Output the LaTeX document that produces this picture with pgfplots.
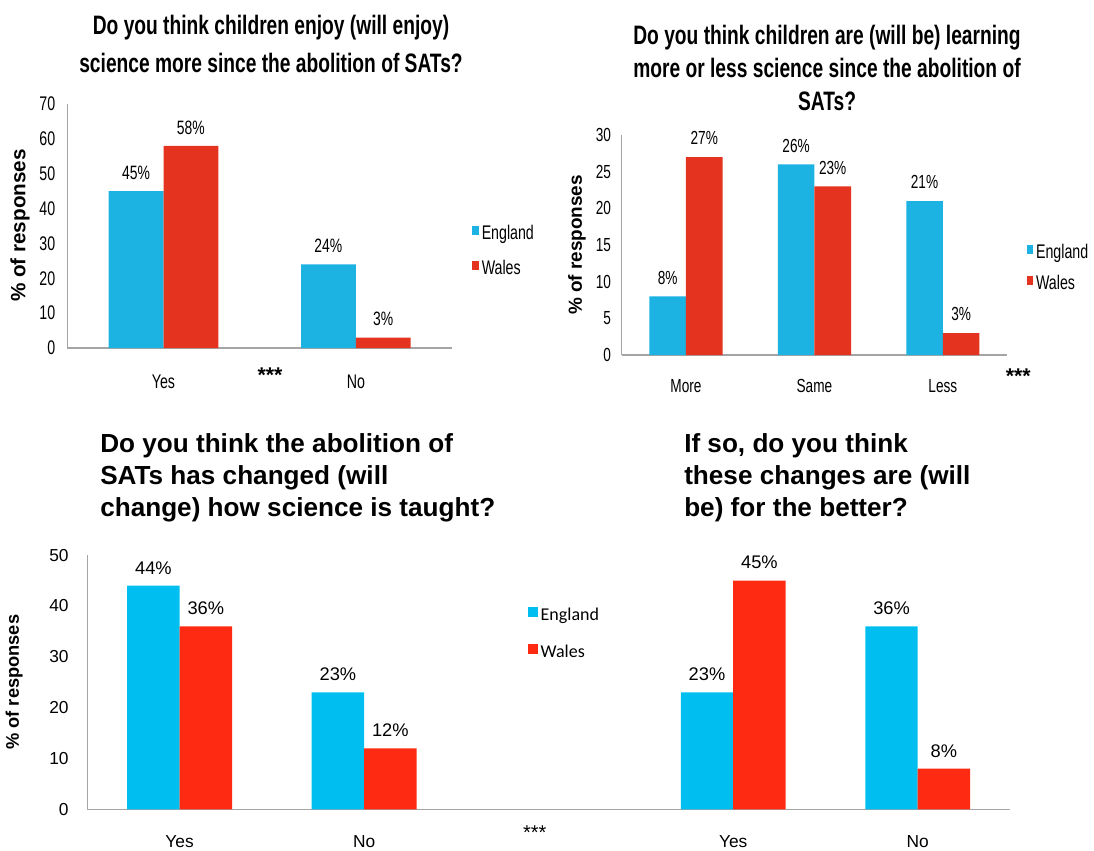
\documentclass[border=0pt]{standalone}
\usepackage{fontspec}
\setmainfont{Liberation Sans}
\newfontfamily\narrow[FakeStretch=0.72]{Liberation Sans}
\newfontfamily\calib{Carlito}
\usepackage{pgfplots}
\pgfplotsset{compat=1.18}

\definecolor{engA}{RGB}{28,178,226}
\definecolor{walA}{RGB}{228,52,31}
\definecolor{engB}{RGB}{0,190,240}
\definecolor{walB}{RGB}{255,42,18}
\definecolor{axgray}{RGB}{165,165,165}

\pgfplotsset{
  panel/.style={
    scale only axis,
    ybar, ymin=0,
    axis x line*=bottom, axis y line*=left,
    axis line style={axgray, line width=0.9pt, -},
    major tick length=0pt,
    clip=false,
    nodes near coords={\pgfmathprintnumber{\pgfplotspointmeta}\%},
    /pgf/number format/assume math mode=true,
    legend style={draw=none, fill=none, cells={anchor=west}},
    ylabel={\bfseries\% of responses},
  },
}

% 1 px of the reference = 0.75pt
\begin{document}
\begin{tikzpicture}
\path[use as bounding box] (0pt,0pt) rectangle (820.5pt,-637.5pt);

% top left
\begin{axis}[panel,
  at={(50.5pt,-261pt)}, anchor=south west,
  width=288.5pt, height=183pt,
  xmin=-0.5, xmax=1.5, ymax=70, ytick={0,10,...,70},
  xtick={0,1}, xticklabels={Yes,No},
  tick label style={font=\narrow\fontsize{14.8}{16}\selectfont},
  xticklabel style={yshift=-16.5pt},
  yticklabel style={xshift=-5.5pt},
  every node near coord/.append style={font=\narrow\fontsize{14.5}{16}\selectfont, yshift=5pt},
  ylabel style={at={(rel axis cs:-0.123,0.502)}, anchor=center, font=\fontsize{15.5}{18}\selectfont},
  legend style={at={(rel axis cs:1.042,0.40)}, anchor=west, font=\narrow\fontsize{14.8}{17}\selectfont, row sep=10pt},
  legend image code/.code={\fill[#1] (0pt,-1.5pt) rectangle (5pt,5.5pt);},
]
\addplot[fill=engA, draw=none, bar width=0.285, bar shift=-0.1425] coordinates {(0,45) (1,24)};
\addplot[fill=walA, draw=none, bar width=0.285, bar shift=0.1425] coordinates {(0,58) (1,3)};
\legend{England,Wales}
\node[font=\bfseries\fontsize{16}{16}\selectfont] at (rel axis cs:0.527,-0.11) {***};
\end{axis}

% top right
\begin{axis}[panel,
  at={(466.3pt,-266.25pt)}, anchor=south west,
  width=289pt, height=165pt,
  xmin=-0.5, xmax=2.5, ymax=30, ytick={0,5,...,30},
  xtick={0,1,2}, xticklabels={More,Same,Less},
  tick label style={font=\narrow\fontsize{14.2}{16}\selectfont},
  xticklabel style={yshift=-15pt},
  yticklabel style={xshift=-4.5pt},
  every node near coord/.append style={font=\narrow\fontsize{14.2}{16}\selectfont, yshift=5.5pt},
  ylabel style={at={(rel axis cs:-0.116,0.5)}, anchor=center, font=\fontsize{14.2}{17}\selectfont},
  legend style={at={(rel axis cs:1.04,0.398)}, anchor=west, font=\narrow\fontsize{14.8}{17}\selectfont, row sep=7pt},
  legend image code/.code={\fill[#1] (0pt,-1.5pt) rectangle (5pt,5.5pt);},
]
\addplot[fill=engA, draw=none, bar width=0.285, bar shift=-0.1425] coordinates {(0,8) (1,26) (2,21)};
\addplot[fill=walA, draw=none, bar width=0.285, bar shift=0.1425] coordinates {(0,27) (1,23) (2,3)};
\legend{England,Wales}
\node[font=\bfseries\fontsize{16}{16}\selectfont] at (rel axis cs:1.029,-0.095) {***};
\end{axis}

% bottom: two questions sharing one axis
\begin{axis}[panel,
  at={(65.5pt,-607pt)}, anchor=south west,
  width=692pt, height=190.7pt,
  xmin=-0.5, xmax=4.5, ymax=50, ytick={0,10,...,50},
  xtick={0,1,3,4},
  xticklabels={Yes,No,Yes,No},
  tick label style={font=\fontsize{13}{15}\selectfont},
  xticklabel style={yshift=-16pt},
  yticklabel style={xshift=-10.5pt},
  every node near coord/.append style={font=\fontsize{13.7}{15}\selectfont, yshift=5pt},
  ylabel style={at={(rel axis cs:-0.0794,0.5)}, anchor=center, font=\fontsize{13.7}{17}\selectfont},
  legend style={at={(axis cs:1.865,34.6)}, anchor=west, font=\calib\fontsize{13.5}{15}\selectfont, row sep=13pt},
  legend image code/.code={\fill[#1] (0pt,-1.75pt) rectangle (7.5pt,5.75pt);},
]
\addplot[fill=engB, draw=none, bar width=0.284, bar shift=-0.142] coordinates {(0,44) (1,23) (3,23) (4,36)};
\addplot[fill=walB, draw=none, bar width=0.284, bar shift=0.142] coordinates {(0,36) (1,12) (3,45) (4,8)};
\legend{England,Wales}
\node[font=\fontsize{15}{15}\selectfont] at (rel axis cs:0.485,-0.092) {***};
\end{axis}

% titles
\node[font=\narrow\bfseries\fontsize{20}{28.5}\selectfont, align=center] at (203.25pt,-33pt)
  {Do you think children enjoy (will enjoy)\\science more since the abolition of SATs?};
\node[font=\narrow\bfseries\fontsize{20}{24.75}\selectfont, align=center] at (620.25pt,-51pt)
  {Do you think children are (will be) learning\\more or less science since the abolition of\\SATs?};
\node[font=\bfseries\fontsize{19.6}{24}\selectfont, align=left, anchor=west, inner sep=0pt] at (75pt,-358.5pt)
  {Do you think the abolition of\\SATs has changed (will\\change) how science is taught?};
\node[font=\bfseries\fontsize{19.6}{24}\selectfont, align=left, anchor=west, inner sep=0pt] at (513pt,-358.5pt)
  {If so, do you think\\these changes are (will\\be) for the better?};
\end{tikzpicture}
\end{document}
